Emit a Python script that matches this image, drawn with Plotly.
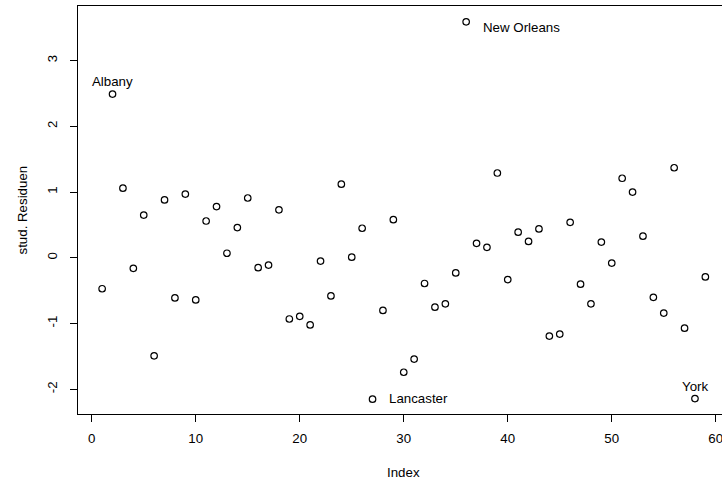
import plotly.graph_objects as go

# Studentized residuals per observation (index 1..59)
index = list(range(1, 60))
stud_res = [
    -0.47, 2.49, 1.06, -0.16, 0.65, -1.49, 0.88, -0.61, 0.97, -0.64,
    0.56, 0.78, 0.07, 0.46, 0.91, -0.15, -0.11, 0.73, -0.93, -0.89,
    -1.02, -0.05, -0.58, 1.12, 0.01, 0.45, -2.15, -0.80, 0.58, -1.74,
    -1.54, -0.39, -0.75, -0.70, -0.23, 3.59, 0.22, 0.16, 1.29, -0.33,
    0.39, 0.25, 0.44, -1.19, -1.16, 0.54, -0.40, -0.70, 0.24, -0.08,
    1.21, 1.00, 0.33, -0.60, -0.84, 1.37, -1.07, -2.14, -0.29,
]

# Labelled observations: (index, name, anchor, x shift, y shift)
labelled = [
    (2, "Albany", "center", 0, 13),
    (36, "New Orleans", "left", 15, -6),
    (27, "Lancaster", "left", 14, 1),
    (58, "York", "center", 0, 12),
]

x_ticks = [0, 10, 20, 30, 40, 50, 60]
x_tick_text = ["0", "10", "20", "30", "40", "50", "60"]
y_ticks = [-2, -1, 0, 1, 2, 3]
y_tick_text = ["-2", "-1", "0", "1", "2", "3"]

FONT = "Liberation Sans, Arial, sans-serif"
FS = 13.3

fig = go.Figure()
fig.add_trace(go.Scatter(
    x=index, y=stud_res, mode="markers",
    marker=dict(symbol="circle-open", size=6.5, color="black",
                line=dict(width=1.2, color="black")),
    hoverinfo="skip", showlegend=False,
))

for i, name, anchor, dx, dy in labelled:
    fig.add_annotation(
        x=i, y=stud_res[i - 1], xref="x", yref="y", text=name,
        showarrow=False, xanchor=anchor, yanchor="middle",
        xshift=dx, yshift=dy, font=dict(family=FONT, size=FS, color="black"),
    )

x_lo, x_hi = -1.32, 60.6
y_lo, y_hi = -2.375, 3.83

fig.add_annotation(
    x=30, y=0, xref="x", yref="paper", text="Index", showarrow=False,
    xanchor="center", yanchor="middle", yshift=-58,
    font=dict(family=FONT, size=FS, color="black"),
)
fig.add_annotation(
    x=0, y=(y_lo + y_hi) / 2, xref="paper", yref="y", text="stud. Residuen",
    showarrow=False, xanchor="center", yanchor="middle", xshift=-56.5,
    textangle=-90, font=dict(family=FONT, size=FS, color="black"),
)

axis_common = dict(
    showgrid=False, zeroline=False, showline=True, linecolor="black",
    linewidth=1, ticks="outside", ticklen=7, tickwidth=1, tickcolor="black",
    tickfont=dict(family=FONT, size=FS, color="black"),
    ticklabeloverflow="allow",
)

fig.update_xaxes(range=[x_lo, x_hi], tickvals=x_ticks, ticktext=x_tick_text,
                 mirror=True, ticklabelstandoff=5, **axis_common)
fig.update_yaxes(range=[y_lo, y_hi], tickvals=y_ticks, ticktext=y_tick_text,
                 mirror=False, tickangle=-90, ticklabelstandoff=8,
                 **axis_common)

fig.update_layout(
    width=722, height=485,
    margin=dict(l=78, r=0, t=6, b=71),
    plot_bgcolor="white", paper_bgcolor="white",
    font=dict(family=FONT, size=FS, color="black"),
)

fig.write_html("out.html")
